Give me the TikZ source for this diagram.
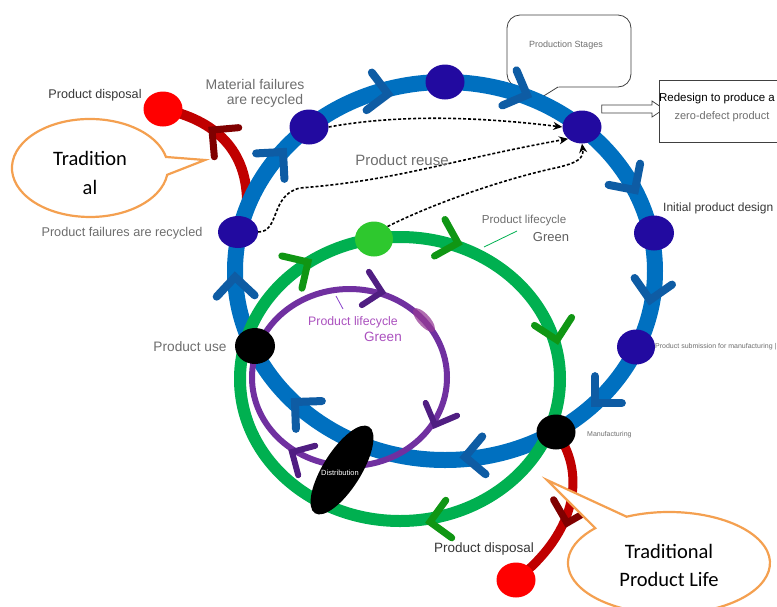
\documentclass[tikz,border=0pt]{standalone}
\usepackage{fontspec}
\setmainfont{Liberation Sans}
\newfontfamily\calib{Carlito}
\usetikzlibrary{arrows.meta,shapes.geometric}
\definecolor{ringblue}{RGB}{0,112,192}
\definecolor{chevblue}{RGB}{14,92,164}
\definecolor{nodeblue}{RGB}{34,10,160}
\definecolor{ringgreen}{RGB}{0,176,80}
\definecolor{chevgreen}{RGB}{16,150,20}
\definecolor{litegreen}{RGB}{46,200,46}
\definecolor{ringpurple}{RGB}{112,48,160}
\definecolor{chevpurple}{RGB}{80,30,130}
\definecolor{blotch}{RGB}{150,60,150}
\definecolor{ringred}{RGB}{192,0,0}
\definecolor{chevred}{RGB}{128,0,0}
\definecolor{dotred}{RGB}{255,0,0}
\definecolor{callorange}{RGB}{244,160,80}
\definecolor{labgray}{RGB}{110,110,110}
\definecolor{darkgray2}{RGB}{55,55,55}
\definecolor{labpurple}{RGB}{170,80,190}
\definecolor{boxgray}{RGB}{64,64,64}
\pgfdeclarelayer{back}
\pgfsetlayers{back,main}
\begin{document}
\begin{tikzpicture}[x=1pt,y=-1pt,
  chev/.pic={\draw[line cap=round,line join=miter] (-1,-1)--(0,0)--(-1,1);},
  dotnode/.style={ellipse, inner sep=0pt, minimum width=39pt, minimum height=35pt},
  lab/.style={text=labgray, inner sep=0pt, font=\fontsize{12}{14}\selectfont},
  dotarrow/.style={black, line width=1.6pt, dash pattern=on 3pt off 2pt, -{Stealth[length=9pt,width=8pt]}},
  callout/.style={callorange, line width=2.2pt, fill=white, line join=miter},
  bigtext/.style={inner sep=0pt, font=\calib\fontsize{20.5}{22}\selectfont, text=black},
  bch/.style={chevblue, line width=8pt, scale=19},
  gch/.style={chevgreen, line width=7pt, scale=19},
  pch/.style={chevpurple, line width=6pt, scale=17},
  rch/.style={chevred, line width=7pt, scale=19},
]
\useasboundingbox (0,0) rectangle (777,606);
\clip (0,0) rectangle (777,606);

% ---------- nodes ----------
\node[dotnode, fill=nodeblue] (b1) at (309,127) {};
\node[dotnode, fill=nodeblue] (b2) at (445,82) {};
\node[dotnode, fill=nodeblue, minimum height=33pt] (b3) at (582,127) {};
\node[dotnode, fill=nodeblue, minimum width=40pt, minimum height=32pt] (b4) at (238,232) {};
\node[dotnode, fill=nodeblue, minimum width=40pt] (b5) at (654,233) {};
\node[dotnode, fill=nodeblue, minimum width=38pt] (b6) at (636,347) {};
\node[dotnode, fill=black, minimum width=40pt, minimum height=36pt] (k1) at (255,346) {};
\node[dotnode, fill=black] (k2) at (556,432) {};
\node[dotnode, fill=litegreen, minimum width=38pt] (g1) at (374,239) {};
\node[dotnode, fill=dotred] (r1) at (163,109) {};
\node[dotnode, fill=dotred] (r2) at (516,580) {};
\node[ellipse, fill=black, inner sep=0pt, minimum width=102pt, minimum height=38pt, rotate=58] (dist) at (342,470) {};
\node[inner sep=0pt, text=white, font=\fontsize{7.5}{9}\selectfont] (distlab) at (340,473) {Distribution};

\coordinate (redjoin) at (247,205);

% ---------- background: callout box, rings, arcs, chevrons ----------
\begin{pgfonlayer}{back}
  % Production Stages callout
  \draw[boxgray, line width=0.8pt, fill=white, rounded corners=13pt] (507,15) rectangle (631,87);
  \fill[white] (521,86.2) -- (542,97) -- (559,86.2) -- cycle;
  \draw[boxgray, line width=0.8pt, line join=round] (522,87) -- (542,97) -- (558,87);
  % red arcs
  \draw[ringred, line width=10pt] (r1.center) .. controls (215,120) and (248,150) .. (redjoin);
  \draw[ringred, line width=9pt] (k2.center) .. controls (585,470) and (580,530) .. (r2.center);
  % rings
  \draw[ringblue, line width=16pt] (445,271) ellipse[x radius=210, y radius=189];
  \draw[ringgreen, line width=12pt] (400,379) ellipse[x radius=160, y radius=142];
  \draw[ringpurple, line width=6pt] (349.5,377.5) ellipse[x radius=97.5, y radius=88.5];
  \fill[blotch, opacity=0.75] (424,320) ellipse[x radius=15, y radius=6, rotate=-48];
  % blue chevrons
  \pic[bch, rotate=-8] at (388,94) {chev};
  \pic[bch, rotate=-22] at (527,95) {chev};
  \pic[bch, rotate=-56] at (635,190) {chev};
  \pic[bch, rotate=-100] at (650,300) {chev};
  \pic[bch, rotate=-135] at (595,403) {chev};
  \pic[bch, rotate=185] at (465,457) {chev};
  \pic[bch, rotate=137] at (295,402) {chev};
  \pic[bch, rotate=92] at (235,277) {chev};
  \pic[bch, rotate=48] at (283,152) {chev};
  % green chevrons
  \pic[gch, rotate=32] at (308,262) {chev};
  \pic[gch, rotate=-16] at (458,243) {chev};
  \pic[gch, rotate=-78] at (557,340) {chev};
  \pic[gch, rotate=189] at (430,522) {chev};
  % purple chevrons
  \pic[pch, rotate=-12] at (382,292) {chev};
  \pic[pch, rotate=-112] at (435,425) {chev};
  \pic[pch, rotate=150] at (292,452) {chev};
  % red chevrons
  \pic[rch, rotate=140] at (212,130) {chev};
  \pic[rch, rotate=-105] at (567,523) {chev};
\end{pgfonlayer}

\node[lab, font=\fontsize{9}{10}\selectfont] (ps) at (566,45) {Production Stages};

% ---------- dotted connectors ----------
\draw[dotarrow] (b1.east) .. controls (400,114) and (480,117) .. (b3.west);
\draw[dotarrow] (b4.east) .. controls (280,232) and (270,195) .. (300,188)
   .. controls (400,180) and (450,160) .. (b3.south west);
\draw[dotarrow] (g1.north east) .. controls (430,205) and (500,180) .. (555,168)
   .. controls (578,163) and (584,158) .. (b3.south);

% ---------- redesign box with block arrow ----------
\draw[boxgray, line width=0.7pt, fill=white] (b3.east |- 0,105) -- (652,105) -- (652,101) -- (664,109) -- (652,117) -- (652,113) -- (b3.east |- 0,113) -- cycle;
\node[draw=boxgray, line width=0.7pt, fill=white, minimum width=140pt, minimum height=62pt, anchor=north west] (rbox) at (659,80) {};
\node[inner sep=0pt, text=black, font=\fontsize{11.5}{13}\selectfont] (rt1) at (717,99) {Redesign to produce a};
\node[inner sep=0pt, text=labgray, font=\fontsize{11}{13}\selectfont] (rt2) at (722,117) {zero-defect product};

% ---------- labels ----------
\node[lab, text=darkgray2, font=\fontsize{12.6}{14}\selectfont] (l1) at (95,95) {Product disposal};
\node[lab, font=\fontsize{14}{16}\selectfont] (l2) at (255,84) {Material failures};
\node[lab, font=\fontsize{14}{16}\selectfont] (l3) at (265,101) {are recycled};
\node[lab, font=\fontsize{15}{17}\selectfont] (l4) at (402,160) {Product reuse};
\node[lab, font=\fontsize{12.7}{14}\selectfont] (l5) at (122,233) {Product failures are recycled};
\node[lab, font=\fontsize{11.6}{13}\selectfont] (l6) at (524,220) {Product lifecycle};
\node[lab, text=darkgray2!80, font=\fontsize{13}{15}\selectfont] (l7) at (551,237) {Green};
\draw[ringgreen, line width=0.8pt] (484,247) -- (517,231);
\node[lab, text=labpurple, font=\fontsize{12.3}{14}\selectfont] (l8) at (353,322) {Product lifecycle};
\node[lab, text=labpurple, font=\fontsize{13.5}{15}\selectfont] (l9) at (383,337) {Green};
\draw[labpurple!80!blue, line width=0.8pt] (336,296) -- (343,309);
\node[lab, text=darkgray2, font=\fontsize{12}{14}\selectfont, anchor=west] (l10) at (663,208) {Initial product design};
\node[lab, font=\fontsize{7}{8}\selectfont, anchor=west] (l11) at (655,347) {Product submission for manufacturing |};
\node[lab, font=\fontsize{7}{8}\selectfont, anchor=west] (l12) at (587,435) {Manufacturing};
\node[lab, font=\fontsize{13.7}{15}\selectfont] (l13) at (190,347) {Product use};
\node[lab, text=darkgray2, font=\fontsize{13.5}{15}\selectfont] (l14) at (484,549) {Product disposal};

% ---------- orange callouts ----------
\draw[callout] (205,160) -- (167.2,174.8) arc[start angle=8, end angle=347, x radius=78, y radius=49] -- cycle;
\node[bigtext] (c1a) at (90,158) {Tradition};
\node[bigtext] (c1b) at (90,187) {al};
\draw[callout] (547,480) -- (626.6,516.7) arc[start angle=245.2, end angle=583.1, x radius=101, y radius=51] -- cycle;
\node[bigtext] (c2a) at (669,551) {Traditional};
\node[bigtext] (c2b) at (669,579) {Product Life};
\end{tikzpicture}
\end{document}
